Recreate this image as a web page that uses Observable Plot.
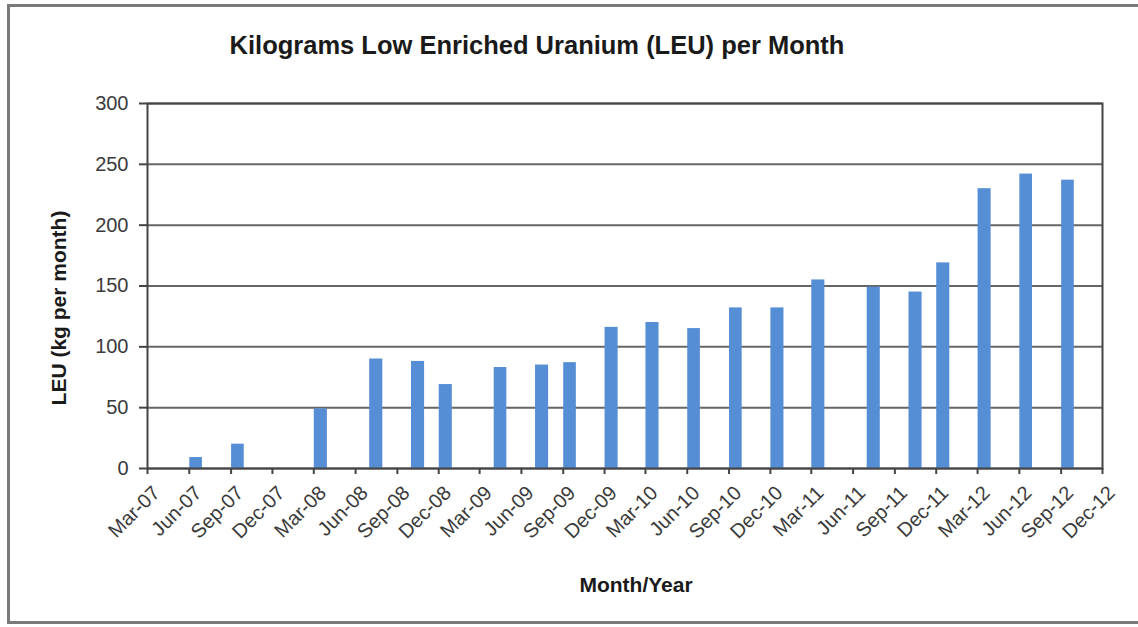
<!DOCTYPE html>
<html><head><meta charset="utf-8">
<script src="https://cdn.jsdelivr.net/npm/d3@7"></script>
<script src="https://cdn.jsdelivr.net/npm/@observablehq/plot@0.6"></script>
<style>
body{margin:0;background:#fff;}
#wrap{position:relative;width:1138px;height:627px;overflow:hidden;font-family:"Liberation Sans",Arial,sans-serif;background:#fff;}
#frame{position:absolute;left:7px;top:4px;width:1140px;height:614px;border:3px solid #7a7a7a;border-right:none;}
#title{position:absolute;left:0;width:1074px;top:31px;text-align:center;font-weight:bold;font-size:25.5px;color:#1a1a1a;white-space:nowrap;}
#chart{position:absolute;left:0;top:0;}
</style></head><body>
<div id="wrap"><div id="frame"></div><div id="title">Kilograms Low Enriched Uranium (LEU) per Month</div><div id="chart"></div></div>
<script>
// Data
const months = ["2007-06","2007-09","2008-03","2008-07","2008-10","2008-12","2009-04","2009-07","2009-09","2009-12","2010-03","2010-06","2010-09","2010-12","2011-03","2011-07","2011-10","2011-12","2012-03","2012-06","2012-09"];
const leu = [9,20,49,90,88,69,83,85,87,116,120,115,132,132,155,149,145,169,230,242,237];
const tickMonths = ["2007-03","2007-06","2007-09","2007-12","2008-03","2008-06","2008-09","2008-12","2009-03","2009-06","2009-09","2009-12","2010-03","2010-06","2010-09","2010-12","2011-03","2011-06","2011-09","2011-12","2012-03","2012-06","2012-09","2012-12"];
const yTicks = [0,50,100,150,200,250,300];
const xDomain = ["2007-03","2012-12"];
const yTitle = "LEU (kg per month)";
const xTitle = "Month/Year";

const parse = d3.utcParse("%Y-%m");
const data = months.map((m,i) => {
  const start = parse(m);
  return {start, end: d3.utcMonth.offset(start, 1), value: leu[i]};
});
const xTickDates = tickMonths.map(parse);

const chart = Plot.plot({
  width: 1138, height: 627,
  marginLeft: 147, marginRight: 36, marginTop: 103, marginBottom: 159,
  style: {fontFamily: "'Liberation Sans', Arial, sans-serif", background: "transparent", overflow: "visible"},
  x: {type: "utc", domain: xDomain.map(parse)},
  y: {domain: [0, 300]},
  marks: [
    Plot.gridY(yTicks, {stroke: "#666", strokeWidth: 2, strokeOpacity: 1}),
    Plot.rectY(data, {x1: "start", x2: "end", y: "value", fill: "#558ED5", insetLeft: 0.5, insetRight: 0.5}),
    Plot.frame({stroke: "#444", strokeWidth: 2}),
    Plot.axisY({ticks: yTicks, tickSize: 8, tickPadding: 11, fontSize: 20, label: null, stroke: "#444", strokeWidth: 2, fill: "#3a3a3a"}),
    // tick marks only
    Plot.axisX({ticks: xTickDates, tickFormat: () => "", tickSize: 6, label: null, stroke: "#444", strokeWidth: 2}),
    // rotated tick labels, offset like the reference
    Plot.axisX({ticks: xTickDates, tickFormat: d3.utcFormat("%b-%y"), tickRotate: -45, tickSize: 0, tickPadding: 21, dx: 9, fontSize: 20, label: null, fill: "#3a3a3a"}),
    Plot.text([yTitle], {frameAnchor: "left", textAnchor: "middle", lineAnchor: "middle", rotate: -90, dx: -88, dy: 22, fontSize: 21, fontWeight: "bold", fill: "#1a1a1a"}),
    Plot.text([xTitle], {frameAnchor: "bottom", textAnchor: "middle", lineAnchor: "middle", dx: 11, dy: 117, fontSize: 21, fontWeight: "bold", fill: "#1a1a1a"})
  ]
});
document.getElementById("chart").appendChild(chart);
</script>
</body></html>
